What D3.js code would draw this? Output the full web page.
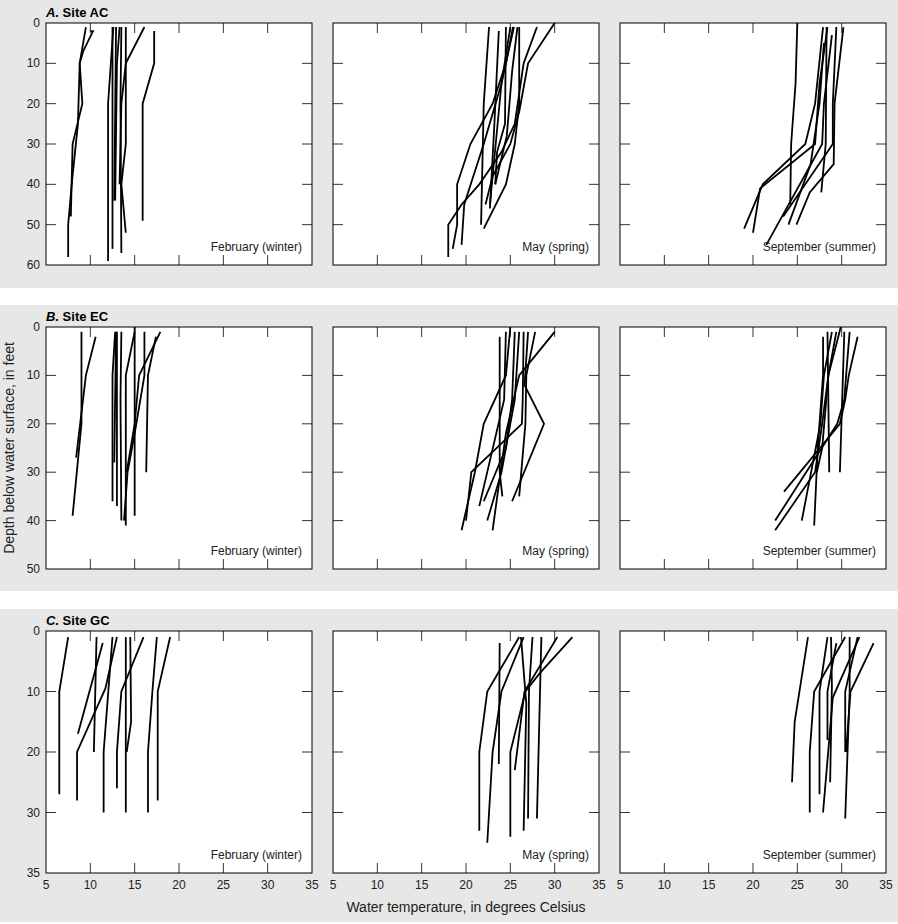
<!DOCTYPE html>
<html>
<head>
<meta charset="utf-8">
<script src="https://cdn.jsdelivr.net/npm/d3@7"></script>
<style>
  body { margin: 0; background: #fff; }
  text { font-family: "Liberation Sans Narrow", "Arial Narrow", "Liberation Sans", sans-serif; }
</style>
</head>
<body>
<svg id="chart" width="898" height="924"></svg>
<script>
// depth profiles, each is a list of [temperature C, depth ft]
const sites = ["A", "B", "C"];
const siteNames = ["Site AC", "Site EC", "Site GC"];
const seasons = ["February (winter)", "May (spring)", "September (summer)"];
const depthMax = [60, 50, 40];
const depthTicks = [[0, 10, 20, 30, 40, 50, 60], [0, 10, 20, 30, 40, 50], [0, 10, 20, 30, 40]];
const depthTickLabels = [["0", "10", "20", "30", "40", "50", "60"], ["0", "10", "20", "30", "40", "50"], ["0", "10", "20", "30", "35"]];
const tempTicks = [5, 10, 15, 20, 25, 30, 35];

const acFeb = [
  [[9.5,1],[8.8,10],[9.1,20],[8.0,30],[7.8,48]],
  [[10.0,2],[10.3,2],[9.2,7],[8.8,10],[8.6,25],[7.9,40],[7.5,50],[7.5,58]],
  [[12.6,1],[12.0,20],[12.0,59]],
  [[12.5,1],[12.5,56]],
  [[12.9,1],[12.7,44]],
  [[13.3,1],[13.0,10],[12.8,44]],
  [[13.5,1],[13.4,20],[13.5,57]],
  [[14.0,1],[14.0,30],[13.5,40],[14.0,52]],
  [[16.1,1],[14.0,10],[13.5,20],[13.3,40]],
  [[17.2,2],[17.2,10],[15.9,20],[15.9,49]]
];
const acMay = [
  [[22.6,1],[22.0,20],[21.7,50]],
  [[23.7,2],[23.2,25],[22.7,46]],
  [[24.5,1],[24.4,25],[23.5,32],[23.3,40]],
  [[25.3,1],[24.5,10],[23.0,20],[20.5,30],[19.0,40],[19.0,50],[18.5,56]],
  [[25.4,1],[24.0,15],[22.0,30],[19.8,45],[19.5,55]],
  [[26.0,1],[26.0,20],[25.5,30],[24.5,40],[22.0,51]],
  [[28.0,1],[26.5,10],[25.5,25],[24.0,32],[21.5,40],[19.5,45],[18.0,50],[18.0,58]],
  [[30.0,0],[27.0,10],[26.0,22],[25.0,30],[23.0,38],[22.2,45]],
  [[25.0,1],[24.0,15],[22.7,45]],
  [[25.8,1],[25.2,12],[24.6,28],[23.3,40]]
];
const acSep = [
  [[25.0,0],[24.8,15],[24.3,30],[24.2,45]],
  [[27.9,1],[27.0,20],[25.9,30],[21.1,40],[19.0,51]],
  [[28.4,1],[27.5,15],[27.0,30],[20.8,41],[20.0,52]],
  [[28.9,3],[28.0,20],[27.8,30],[21.5,55]],
  [[28.3,1],[28.2,30],[27.7,42]],
  [[29.4,1],[29.0,20],[29.0,30],[23.4,48]],
  [[30.2,1],[29.2,20],[29.1,35],[26.4,42],[24.9,50]],
  [[28.0,5],[27.5,20],[26.5,35],[24.0,50]]
];
const ecFeb = [
  [[9.0,1],[9.0,20],[8.0,39]],
  [[10.6,2],[9.5,10],[8.4,27]],
  [[12.8,1],[12.5,10],[12.5,36]],
  [[13.0,1],[13.0,37]],
  [[12.9,1],[12.7,28]],
  [[13.5,1],[13.4,15],[13.5,40]],
  [[15.0,1],[14.0,10],[14.0,41]],
  [[15.0,0],[15.0,39]],
  [[16.1,1],[16.1,10],[15.0,22],[14.2,30],[13.8,40]],
  [[17.9,1],[15.5,10],[15.0,20],[14.1,30]],
  [[17.4,2],[16.5,10],[16.3,30]]
];
const ecMay = [
  [[23.8,2],[23.8,20],[23.8,30],[24.1,35]],
  [[25.0,0],[24.5,10],[22.0,20],[21.0,30],[19.5,42]],
  [[26.5,1],[26.4,15],[26.3,20],[20.6,30],[20.0,40]],
  [[27.0,1],[26.6,12],[28.8,20],[25.2,36]],
  [[30.0,1],[26.0,10],[24.5,22],[23.0,42]],
  [[25.5,1],[25.2,15],[24.5,25],[22.0,36]],
  [[26.0,1],[25.5,15],[24.0,30],[22.4,40]],
  [[27.8,1],[26.8,10],[26.7,20],[26.0,35]],
  [[24.5,1],[24.3,15],[21.5,37]]
];
const ecSep = [
  [[28.4,1],[28.6,30]],
  [[30.3,1],[29.8,30]],
  [[27.9,2],[27.9,10],[27.3,25],[26.9,41]],
  [[28.9,1],[28.0,10],[27.6,20],[25.5,40]],
  [[29.9,0],[28.5,10],[27.8,20],[27.0,30],[22.5,42]],
  [[31.8,2],[30.8,10],[30.4,15],[29.8,20],[23.5,34]],
  [[30.9,1],[30.5,10],[30.3,15],[29.5,20],[22.5,40]],
  [[29.4,1],[28.5,10],[27.8,25],[27.2,30]]
];
const gcFeb = [
  [[7.5,1],[6.5,10],[6.5,27]],
  [[10.7,1],[10.4,20]],
  [[11.4,2],[8.6,17]],
  [[12.5,1],[11.5,20],[11.5,30]],
  [[13.0,1],[11.7,9.5],[8.5,20],[8.5,28]],
  [[16.0,1],[13.5,10],[13.0,20],[13.0,26]],
  [[14.0,1],[14.0,30]],
  [[14.5,1],[14.6,15],[14.1,20]],
  [[17.5,1],[17.0,10],[16.5,20],[16.5,30]],
  [[19.0,1],[17.6,10],[17.6,28]]
];
const gcMay = [
  [[23.8,2],[23.7,22]],
  [[26.0,1],[22.4,10],[21.5,20],[21.5,33]],
  [[26.5,1],[24.0,10],[23.0,20],[22.4,35]],
  [[27.5,1],[27.1,10],[27.0,31]],
  [[28.5,1],[28.0,31]],
  [[30.3,1],[26.6,10],[25.5,23]],
  [[32.0,1],[28.3,7],[26.7,10],[25.0,20],[25.0,34]],
  [[26.2,1],[26.8,12],[26.5,33]]
];
const gcSep = [
  [[26.2,1],[24.7,15],[24.4,25]],
  [[28.4,1],[27.5,10],[27.5,27]],
  [[30.4,1],[26.9,10],[26.4,20],[26.4,30]],
  [[28.8,1],[28.9,9],[28.7,25]],
  [[29.4,2],[28.4,10],[28.4,18]],
  [[32.0,1],[29.0,11],[27.9,30]],
  [[30.9,1],[30.9,10],[30.4,31]],
  [[33.6,2],[31.0,10],[30.5,20]],
  [[31.8,1],[30.4,10],[30.4,20]]
];
const profiles = [[acFeb, acMay, acSep], [ecFeb, ecMay, ecSep], [gcFeb, gcMay, gcSep]];

const svg = d3.select("#chart");
const plotX = [46, 333, 620], plotW = 266, plotH = 242;
const plotY = [23, 327, 631];
const bands = [[0, 288], [305, 591], [609, 922]];

bands.forEach(b => svg.append("rect").attr("x", 0).attr("y", b[0]).attr("width", 898).attr("height", b[1] - b[0]).attr("fill", "#e6e7e6"));

const x = d3.scaleLinear().domain([5, 35]).range([0, plotW]);
const line = d3.line().x(d => x(d[0]));

sites.forEach((s, r) => {
  const y = d3.scaleLinear().domain([0, depthMax[r]]).range([0, plotH]);
  line.y(d => y(d[1]));

  const title = svg.append("text").attr("x", plotX[0]).attr("y", plotY[r] - 6)
    .attr("font-size", 13).attr("font-weight", "bold");
  title.append("tspan").attr("font-style", "italic").text(s + ".");
  title.append("tspan").text(" " + siteNames[r]);

  seasons.forEach((season, c) => {
    const g = svg.append("g").attr("transform", `translate(${plotX[c]},${plotY[r]})`);
    g.append("rect").attr("width", plotW).attr("height", plotH).attr("fill", "#fff");

    // inward ticks
    const inner = tempTicks.slice(1, -1);
    g.selectAll(".tt").data(inner).enter().append("line")
      .attr("x1", d => x(d)).attr("x2", d => x(d)).attr("y1", 0).attr("y2", 10)
      .attr("stroke", "#333").attr("stroke-width", 1);
    g.selectAll(".tb").data(inner).enter().append("line")
      .attr("x1", d => x(d)).attr("x2", d => x(d)).attr("y1", plotH).attr("y2", plotH - 10)
      .attr("stroke", "#333").attr("stroke-width", 1);
    const innerY = depthTicks[r].slice(1, -1);
    g.selectAll(".tr").data(innerY).enter().append("line")
      .attr("x1", plotW).attr("x2", plotW - 10).attr("y1", d => y(d)).attr("y2", d => y(d))
      .attr("stroke", "#333").attr("stroke-width", 1);
    g.selectAll(".tl").data(innerY).enter().append("line")
      .attr("x1", 0).attr("x2", 10).attr("y1", d => y(d)).attr("y2", d => y(d))
      .attr("stroke", "#333").attr("stroke-width", 1);

    g.selectAll(".prof").data(profiles[r][c]).enter().append("path")
      .attr("d", line).attr("fill", "none").attr("stroke", "#000").attr("stroke-width", 1.8);

    g.append("rect").attr("width", plotW).attr("height", plotH)
      .attr("fill", "none").attr("stroke", "#000").attr("stroke-width", 1);

    g.append("text").attr("x", plotW - 10).attr("y", plotH - 14)
      .attr("text-anchor", "end").attr("font-size", 12).attr("fill", "#222").text(season);

    if (c === 0) {
      g.selectAll(".yl").data(depthTicks[r]).enter().append("text")
        .attr("x", -6).attr("y", d => y(d) + 4).attr("text-anchor", "end")
        .attr("font-size", 12).attr("fill", "#222")
        .text((d, i) => depthTickLabels[r][i]);
    }
    if (r === 2) {
      g.selectAll(".xl").data(tempTicks).enter().append("text")
        .attr("x", d => x(d)).attr("y", plotH + 16).attr("text-anchor", "middle")
        .attr("font-size", 12).attr("fill", "#222").text(d => d);
    }
  });
});

svg.append("text").attr("x", 466).attr("y", 912).attr("text-anchor", "middle")
  .attr("font-size", 14).attr("fill", "#222").text("Water temperature, in degrees Celsius");
svg.append("text").attr("transform", "translate(14,448) rotate(-90)").attr("text-anchor", "middle")
  .attr("font-size", 14).attr("fill", "#222").text("Depth below water surface, in feet");
</script>
</body>
</html>
